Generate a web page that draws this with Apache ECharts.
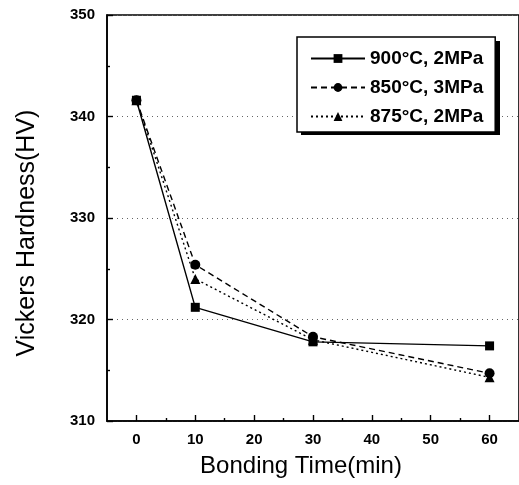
<!DOCTYPE html>
<html>
<head>
<meta charset="utf-8">
<script src="https://cdn.jsdelivr.net/npm/echarts@6/dist/echarts.min.js"></script>
<style>
  html, body { margin: 0; padding: 0; background: #fff; }
  #chart { width: 519px; height: 485px; }
</style>
</head>
<body>
<div id="chart"></div>
<script>
// Bonding time (min) at which hardness was measured
const bondingTime = [0, 10, 30, 60];

// Vickers hardness (HV) for each bonding condition
const hv900C2MPa = [341.6, 321.2, 317.8, 317.4];
const hv850C3MPa = [341.6, 325.4, 318.3, 314.7];
const hv875C2MPa = [341.6, 324.0, 318.0, 314.3];

const seriesNames = ['900\u00B0C, 2MPa', '850\u00B0C, 3MPa', '875\u00B0C, 2MPa'];

// Axis ticks
const xMajorTicks = [0, 10, 20, 30, 40, 50, 60];
const xMinorTicks = [5, 15, 25, 35, 45, 55];

const FONT = '"Liberation Sans", Arial, sans-serif';

// Legend box placement (the drop shadow is drawn as a separate rect behind it)
const LEGEND_BOX = { left: 297, top: 37, width: 199, height: 94, shadow: 4 };

function pairs(values) {
  return bondingTime.map((t, i) => [t, values[i]]);
}

function makeSeries(name, values, symbol, lineType, size) {
  return {
    name: name,
    type: 'line',
    xAxisIndex: 0,
    yAxisIndex: 0,
    data: pairs(values),
    symbol: symbol,
    symbolSize: size,
    showSymbol: true,
    lineStyle: { color: '#000', width: 1.4, type: lineType },
    itemStyle: { color: '#000', borderWidth: 0 },
    emphasis: { disabled: true },
    animation: false
  };
}

const chart = echarts.init(document.getElementById('chart'), null, { renderer: 'canvas' });

chart.setOption({
  backgroundColor: '#fff',
  animation: false,
  grid: {
    left: 107, top: 15, width: 415, height: 406,
    show: true, borderColor: '#000', borderWidth: 1.6, backgroundColor: 'transparent'
  },
  graphic: [{
    type: 'rect',
    z: 3,
    silent: true,
    shape: {
      x: LEGEND_BOX.left + LEGEND_BOX.shadow,
      y: LEGEND_BOX.top + LEGEND_BOX.shadow,
      width: LEGEND_BOX.width,
      height: LEGEND_BOX.height
    },
    style: { fill: '#000' }
  }],
  legend: {
    orient: 'vertical',
    left: LEGEND_BOX.left, top: LEGEND_BOX.top,
    width: LEGEND_BOX.width,
    padding: [12, 12, 6, 13],
    itemGap: 10,
    itemWidth: 54,
    itemHeight: 11,
    z: 4,
    backgroundColor: '#fff',
    borderColor: '#000',
    borderWidth: 1.5,
    textStyle: { fontFamily: FONT, fontWeight: 'bold', fontSize: 19, color: '#000' },
    data: seriesNames
  },
  xAxis: [
    {
      type: 'value', gridIndex: 0, position: 'bottom',
      min: -5, max: 65,
      name: 'Bonding Time(min)', nameLocation: 'middle', nameGap: 33,
      nameTextStyle: { fontFamily: FONT, fontSize: 24, color: '#000', padding: [0, 24, 0, 0] },
      axisLine: { show: true, onZero: false, lineStyle: { color: '#000', width: 1.6 } },
      axisTick: { show: true, inside: true, length: 6, customValues: xMajorTicks, lineStyle: { color: '#000', width: 1.4 } },
      axisLabel: { show: true, margin: 11, customValues: xMajorTicks, fontFamily: FONT, fontWeight: 'bold', fontSize: 15, color: '#000' },
      splitLine: { show: false }
    },
    {
      type: 'value', gridIndex: 0, position: 'bottom', offset: 0,
      min: -5, max: 65,
      axisLine: { show: false },
      axisTick: { show: true, inside: true, length: 3, customValues: xMinorTicks, lineStyle: { color: '#000', width: 1.4 } },
      axisLabel: { show: false },
      splitLine: { show: false }
    }
  ],
  yAxis: {
    type: 'value',
    min: 310, max: 350, interval: 10,
    name: 'Vickers Hardness(HV)', nameLocation: 'middle', nameGap: 67,
    nameTextStyle: { fontFamily: FONT, fontSize: 25, color: '#000', padding: [0, 30, 0, 0] },
    axisLine: { show: true, onZero: false, lineStyle: { color: '#000', width: 1.6 } },
    axisTick: { show: true, inside: true, length: 6, lineStyle: { color: '#000', width: 1.4 } },
    minorTick: { show: true, splitNumber: 2, length: 3, lineStyle: { color: '#000', width: 1.4 } },
    axisLabel: { margin: 12, fontFamily: FONT, fontWeight: 'bold', fontSize: 15, color: '#000' },
    splitLine: { show: true, lineStyle: { color: '#666', width: 1, type: [1, 4] } }
  },
  series: [
    makeSeries(seriesNames[0], hv900C2MPa, 'rect', 'solid', 9),
    makeSeries(seriesNames[1], hv850C3MPa, 'circle', [6, 4], 10),
    makeSeries(seriesNames[2], hv875C2MPa, 'triangle', [2, 3], 10)
  ]
});
</script>
</body>
</html>
